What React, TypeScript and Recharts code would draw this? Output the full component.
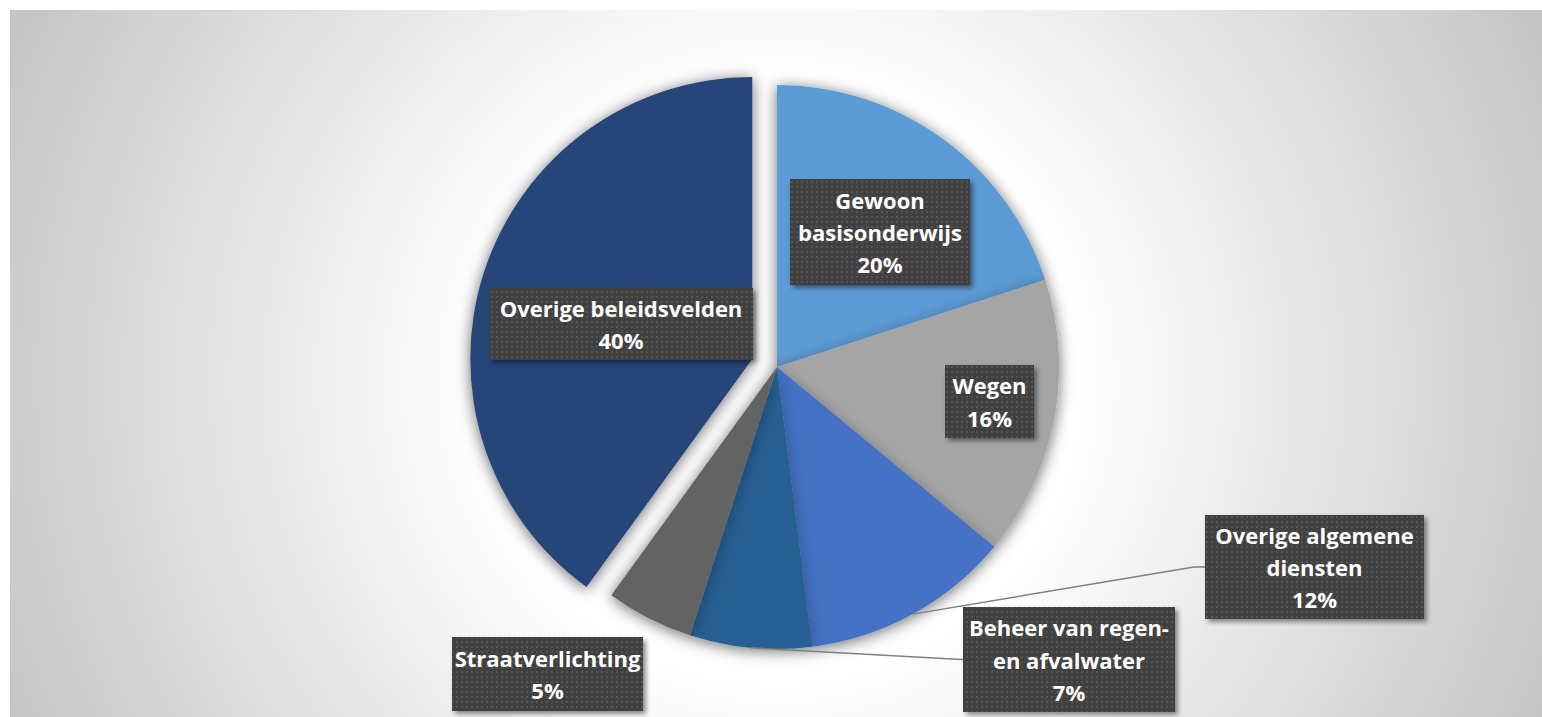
import React from 'react';
import { PieChart, Pie, Cell } from 'recharts';

// ---- data ----
const categories = [
  'Gewoon basisonderwijs',
  'Wegen',
  'Overige algemene diensten',
  'Beheer van regen- en afvalwater',
  'Straatverlichting',
  'Overige beleidsvelden',
];
const shares = [20, 16, 12, 7, 5, 40];
const labelLines = [
  ['Gewoon', 'basisonderwijs'],
  ['Wegen'],
  ['Overige algemene', 'diensten'],
  ['Beheer van regen-', 'en afvalwater'],
  ['Straatverlichting'],
  ['Overige beleidsvelden'],
];
const colors = ['#5b9bd5', '#a5a5a5', '#4472c4', '#255e91', '#636363', '#264478'];
const explodedIndex = 5;

const data = categories.map((name, i) => ({ name, value: shares[i] }));

// ---- layout (page coordinates, wrapper is fixed at 0,0) ----
const W = 1542;
const H = 717;
const CX = 777;
const CY = 367;
const R = 282;
const EXPLODE = 26;

// label box placement relative to the pie centre (layout only)
const labelLayout = [
  { dx: 103, dy: -135, w: 180, h: 106, leader: false, elbow: 0 },
  { dx: 212.5, dy: 34.5, w: 89, h: 73, leader: false, elbow: 0 },
  { dx: 537.5, dy: 200, w: 219, h: 104, leader: true, elbow: 11 },
  { dx: 292, dy: 292.5, w: 212, h: 105, leader: true, elbow: 2 },
  { dx: -229.5, dy: 307, w: 191, h: 74, leader: false, elbow: 0 },
  { dx: -156, dy: -43, w: 264, h: 72, leader: false, elbow: 0 },
];

const RAD = Math.PI / 180;
const LH = 32.4;

// explode direction from the mid angle of the exploded slice (clockwise from top)
const explodedMid = (() => {
  const total = shares.reduce((a, b) => a + b, 0);
  let before = 0;
  for (let i = 0; i < explodedIndex; i++) before += shares[i];
  return ((before + shares[explodedIndex] / 2) / total) * 360;
})();
const EX = CX + EXPLODE * Math.sin(explodedMid * RAD);
const EY = CY - EXPLODE * Math.cos(explodedMid * RAD);

function renderLabel(props: any) {
  const { cx, cy, midAngle, outerRadius, index, percent } = props;
  const L = labelLayout[index];
  const bx = cx + L.dx;
  const by = cy + L.dy;
  const left = bx - L.w / 2;
  const top = by - L.h / 2;
  const lines = [...labelLines[index], `${Math.round(percent * 100)}%`];
  const n = lines.length;
  const firstBase = by - (n * LH) / 2 + 25.2;
  let leader: any = null;
  if (L.leader) {
    const ex = cx + outerRadius * Math.cos(-midAngle * RAD);
    const ey = cy + outerRadius * Math.sin(-midAngle * RAD);
    leader = (
      <polyline
        points={`${ex},${ey} ${left - L.elbow},${by} ${left},${by}`}
        fill="none"
        stroke="#7f7f7f"
        strokeWidth={1.5}
      />
    );
  }
  return (
    <g key={`lbl-${index}`}>
      {leader}
      <rect x={left} y={top} width={L.w} height={L.h} fill="url(#dotPattern)" filter="url(#boxShadow)" />
      {lines.map((t, i) => (
        <text
          key={i}
          x={bx}
          y={firstBase + i * LH}
          textAnchor="middle"
          fill="#ffffff"
          fontFamily="'Open Sans', sans-serif"
          fontWeight={700}
          fontSize={22}
        >
          {t}
        </text>
      ))}
    </g>
  );
}

export default function App() {
  return (
    <div style={{ position: 'fixed', left: 0, top: 0, width: W, height: H, overflow: 'hidden', background: '#ffffff' }}>
      <div
        style={{
          position: 'absolute',
          left: 10,
          top: 10,
          width: W - 10,
          height: H - 10,
          background:
            'radial-gradient(circle 860px at 767px 370px, #ffffff 0%, #ffffff 35%, #c3c3c3 100%)',
        }}
      />
      <svg width={0} height={0} style={{ position: 'absolute' }}>
        <defs>
          <pattern id="dotPattern" width="5" height="5" patternUnits="userSpaceOnUse">
            <rect width="5" height="5" fill="#3f3f3f" />
            <rect x="1" y="1" width="2" height="2" fill="#545454" />
          </pattern>
          <filter id="boxShadow" x="-20%" y="-20%" width="140%" height="150%">
            <feDropShadow dx="3" dy="3" stdDeviation="2.5" floodColor="#000000" floodOpacity="0.45" />
          </filter>
          <filter id="pieShadow" x="-20%" y="-20%" width="140%" height="140%">
            <feDropShadow dx="0" dy="2" stdDeviation="7" floodColor="#000000" floodOpacity="0.3" />
          </filter>
        </defs>
      </svg>
      <div style={{ position: 'absolute', left: 0, top: 0 }}>
        <PieChart width={W} height={H} margin={{ top: 0, right: 0, bottom: 0, left: 0 }}>
          <Pie
            className="pie-main"
            data={data}
            dataKey="value"
            nameKey="name"
            cx={CX}
            cy={CY}
            outerRadius={R}
            startAngle={90}
            endAngle={-270}
            isAnimationActive={false}
            labelLine={false}
            stroke="none"
          >
            {data.map((d, i) => (
              <Cell key={d.name} fill={i === explodedIndex ? 'none' : colors[i]} stroke="none" />
            ))}
          </Pie>
          <Pie
            className="pie-exploded"
            data={data}
            dataKey="value"
            nameKey="name"
            cx={EX}
            cy={EY}
            outerRadius={R}
            startAngle={90}
            endAngle={-270}
            isAnimationActive={false}
            labelLine={false}
            stroke="none"
          >
            {data.map((d, i) => (
              <Cell key={d.name} fill={i === explodedIndex ? colors[i] : 'none'} stroke="none" />
            ))}
          </Pie>
          <Pie
            data={data}
            dataKey="value"
            nameKey="name"
            cx={CX}
            cy={CY}
            outerRadius={R}
            startAngle={90}
            endAngle={-270}
            isAnimationActive={false}
            labelLine={false}
            label={renderLabel}
            fill="none"
            stroke="none"
          >
            {data.map((d) => (
              <Cell key={d.name} fill="none" stroke="none" />
            ))}
          </Pie>
        </PieChart>
      </div>
      <style>{`.pie-main, .pie-exploded { filter: url(#pieShadow); }`}</style>
    </div>
  );
}
